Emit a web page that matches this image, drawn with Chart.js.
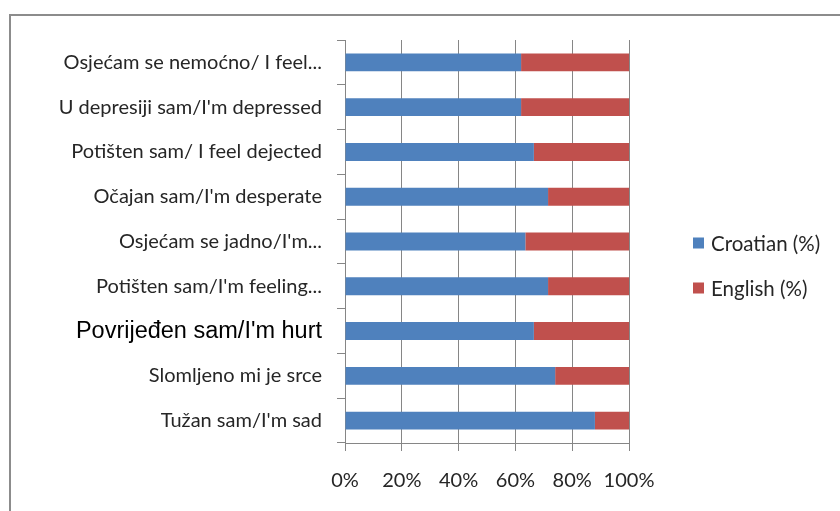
<!DOCTYPE html>
<html>
<head>
<meta charset="utf-8">
<script src="https://cdn.jsdelivr.net/npm/chart.js@4"></script>
<style>
    html, body { margin: 0; padding: 0; background: #fff; overflow: hidden; }
    #wrap { position: relative; width: 840px; height: 511px; overflow: hidden; }
    #frame {
        position: absolute; left: 9px; top: 14px; width: 900px; height: 600px;
        border-top: 2px solid #8c8c8c; border-left: 2px solid #8c8c8c;
        pointer-events: none;
    }
    canvas { position: absolute; left: 0; top: 0; }
</style>
</head>
<body>
<div id="wrap">
    <canvas id="chart" width="840" height="511"></canvas>
    <div id="frame"></div>
</div>
<script>
// ── Data ──────────────────────────────────────────────────────
const categories = [
    'Osjećam se nemoćno/ I feel...',
    'U depresiji sam/I\'m depressed',
    'Potišten sam/ I feel dejected',
    'Očajan sam/I\'m desperate',
    'Osjećam se jadno/I\'m...',
    'Potišten sam/I\'m feeling...',
    'Povrijeđen sam/I\'m hurt',
    'Slomljeno mi je srce',
    'Tužan sam/I\'m sad'
];
const croatian = [62, 62, 66.5, 71.5, 63.5, 71.5, 66.5, 74, 88];
const english  = [38, 38, 33.5, 28.5, 36.5, 28.5, 33.5, 26, 12];
const xTicks   = [0, 20, 40, 60, 80, 100];

// ── Style ─────────────────────────────────────────────────────
const FONT     = 'Lato';
const FONT_PX  = 20;
const GRID     = '#868686';
const TEXT     = '#262626';
const ODD_ROW  = 6; // this label is set in a different face in the original

// ── Legend (drawn at the right, like the Excel original) ──────
const sideLegend = {
    id: 'sideLegend',
    afterDraw(chart) {
        const ctx = chart.ctx;
        ctx.save();
        ctx.font = `${FONT_PX + 0.5}px ${FONT}`;
        ctx.textBaseline = 'middle';
        chart.data.datasets.forEach((ds, i) => {
            const y = 243 + i * 45;
            ctx.fillStyle = ds.backgroundColor;
            ctx.fillRect(693, y - 5.5, 11, 11);
            ctx.fillStyle = TEXT;
            ctx.fillText(ds.label, 711, y + 1);
        });
        ctx.restore();
    }
};

// ── Chart ─────────────────────────────────────────────────────
new Chart(document.getElementById('chart'), {
    type: 'bar',
    data: {
        labels: categories,
        datasets: [
            { label: 'Croatian (%)', data: croatian, backgroundColor: '#4f81bd' },
            { label: 'English (%)',  data: english,  backgroundColor: '#c0504d' }
        ]
    },
    options: {
        indexAxis: 'y',
        responsive: false,
        animation: false,
        devicePixelRatio: 1,
        categoryPercentage: 1,
        barPercentage: 0.4,
        layout: { padding: { top: 40, right: 211, bottom: 0, left: 0 } },
        plugins: {
            legend: { display: false },
            tooltip: { enabled: false }
        },
        scales: {
            x: {
                stacked: true,
                min: 0,
                max: 100,
                afterBuildTicks: s => { s.ticks = xTicks.map(v => ({ value: v })); },
                afterFit: s => { s.height = 68; },
                grid: { color: GRID, tickLength: 8, tickColor: GRID },
                border: { display: true, color: GRID },
                ticks: {
                    color: TEXT,
                    padding: 18,
                    autoSkip: false,
                    maxRotation: 0,
                    minRotation: 0,
                    font: { family: FONT, size: FONT_PX },
                    callback: v => v + '%'
                }
            },
            y: {
                stacked: true,
                afterFit: s => { s.width = 345; },
                grid: { drawOnChartArea: false, offset: true, tickLength: 8, tickColor: GRID },
                border: { display: true, color: GRID },
                ticks: {
                    padding: 15,
                    color: c => c.index === ODD_ROW ? '#000' : TEXT,
                    font: c => c.index === ODD_ROW
                        ? { family: 'Liberation Sans', size: 23.5 }
                        : { family: FONT, size: FONT_PX }
                }
            }
        }
    },
    plugins: [sideLegend]
});
</script>
</body>
</html>
